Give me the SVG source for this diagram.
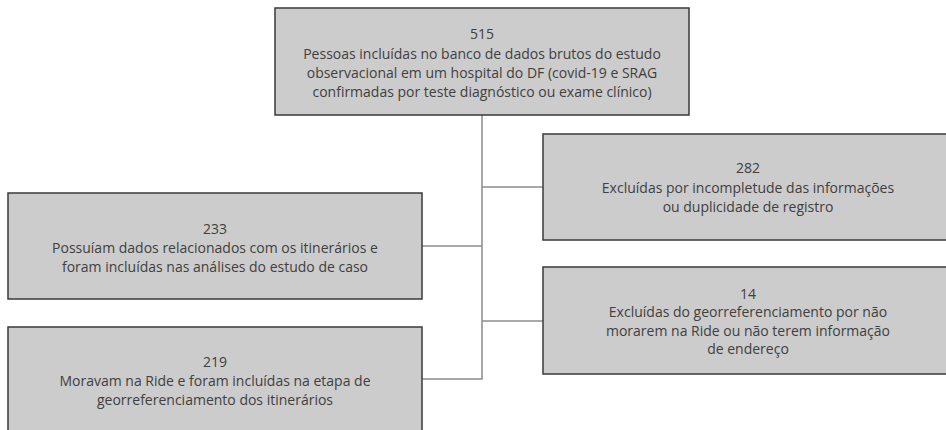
<svg xmlns="http://www.w3.org/2000/svg" width="946" height="430" viewBox="0 0 946 430">
<style>
.box{fill:#cccccc;stroke:#3a3a3a;stroke-width:1.5}
.t{font-family:"Open Sans","Noto Sans",sans-serif;font-size:14px;fill:#404040;text-anchor:middle}
.c{fill:none;stroke:#8c8c8c;stroke-width:1.5}
</style>
<rect width="946" height="430" fill="#ffffff"/>
<g id="connectors">
<path class="c" d="M482 115 V379 H422"/>
<path class="c" d="M482 187 H543"/>
<path class="c" d="M482 246 H422"/>
<path class="c" d="M482 321 H543"/>
</g>
<g id="n515">
<rect class="box" x="275" y="8" width="414" height="107"/>
<text class="t" x="482" y="39">515</text>
<text class="t" x="482" y="59">Pessoas incluídas no banco de dados brutos do estudo</text>
<text class="t" x="482" y="78">observacional em um hospital do DF (covid-19 e SRAG</text>
<text class="t" x="482" y="97">confirmadas por teste diagnóstico ou exame clínico)</text>
</g>
<g id="n282">
<rect class="box" x="543" y="134" width="410" height="106"/>
<text class="t" x="748" y="173">282</text>
<text class="t" x="748" y="193">Excluídas por incompletude das informações</text>
<text class="t" x="748" y="212">ou duplicidade de registro</text>
</g>
<g id="n233">
<rect class="box" x="8" y="193" width="414" height="106"/>
<text class="t" x="215" y="234">233</text>
<text class="t" x="215" y="253">Possuíam dados relacionados com os itinerários e</text>
<text class="t" x="215" y="272">foram incluídas nas análises do estudo de caso</text>
</g>
<g id="n14">
<rect class="box" x="543" y="267" width="410" height="107"/>
<text class="t" x="748" y="299">14</text>
<text class="t" x="748" y="317">Excluídas do georreferenciamento por não</text>
<text class="t" x="748" y="336">morarem na Ride ou não terem informação</text>
<text class="t" x="748" y="354">de endereço</text>
</g>
<g id="n219">
<rect class="box" x="8" y="327" width="414" height="106"/>
<text class="t" x="215" y="367">219</text>
<text class="t" x="215" y="386">Moravam na Ride e foram incluídas na etapa de</text>
<text class="t" x="215" y="405">georreferenciamento dos itinerários</text>
</g>
</svg>
